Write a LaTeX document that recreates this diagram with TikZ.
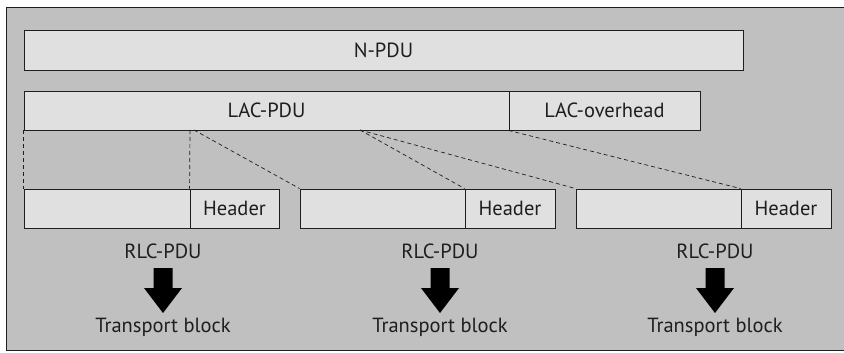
\documentclass[tikz,border=0pt]{standalone}
\usepackage{fontspec}
\setmainfont{PT Sans}
\usetikzlibrary{calc}
\definecolor{bggray}{HTML}{C0C0C0}
\definecolor{boxgray}{HTML}{E0E0E0}
\definecolor{ink}{HTML}{1E1E1E}
\begin{document}
\begin{tikzpicture}[x=1pt,y=-1pt,
  pdubox/.style={draw=ink, line width=0.9pt, fill=boxgray, inner sep=0pt, text=ink,
    font=\fontsize{20.5}{23}\selectfont},
  lbl/.style={text=ink, inner sep=0pt, font=\fontsize{20.5}{23}\selectfont},
  dashline/.style={draw=ink, line width=0.7pt, dash pattern=on 4pt off 3pt},
  fatarrow/.style={fill=black, draw=none}]
\useasboundingbox (0,0) rectangle (844,353);
\fill[white] (0,0) rectangle (844,353);
\draw[fill=bggray, draw=ink, line width=0.8pt] (6,7) rectangle (850,350);

% top boxes
\node[pdubox, minimum width=719pt, minimum height=40pt] (npdu) at (383.5,50.5) {N-PDU};
\node[pdubox, minimum width=485pt, minimum height=39pt] (lacpdu) at (266.5,110.5) {LAC-PDU};
\node[pdubox, minimum width=191pt, minimum height=39pt] (lacoh) at (604.5,110.5) {LAC-overhead};

% RLC-PDU boxes
\node[pdubox, minimum width=166pt, minimum height=39pt] (d1) at (107,208.5) {};
\node[pdubox, minimum width=89pt, minimum height=39pt] (h1) at (234.5,208.5) {Header};
\node[pdubox, minimum width=165pt, minimum height=39pt] (d2) at (382.5,208.5) {};
\node[pdubox, minimum width=90pt, minimum height=39pt] (h2) at (510,208.5) {Header};
\node[pdubox, minimum width=165pt, minimum height=39pt] (d3) at (658.5,208.5) {};
\node[pdubox, minimum width=90pt, minimum height=39pt] (h3) at (786,208.5) {Header};

% dashed mapping lines
\coordinate (s1) at (190,130);
\coordinate (s2) at (194,130);
\coordinate (s3) at (360,130);
\draw[dashline] (lacpdu.south west) -- (d1.north west);
\draw[dashline] (s1) -- (h1.north west);
\draw[dashline] (s2) -- (d2.north west);
\draw[dashline] (s3) -- (h2.north west);
\draw[dashline] (s3) -- (d3.north west);
\draw[dashline] (lacoh.south west) -- (h3.north west);

% labels and arrows
\foreach \i/\x in {1/163,2/440,3/715}{
  \node[lbl] (rlc\i) at (\x,251) {RLC-PDU};
  \node[lbl] (tb\i) at (\x,327) {Transport block};
  \coordinate (top\i) at (\x,268);
  \fill[fatarrow] ($(top\i)+(-9.5,0)$) -- ($(top\i)+(9.5,0)$) -- ($(top\i)+(9.5,20)$)
     -- ($(top\i)+(19,20)$) -- ($(top\i)+(0,45)$) -- ($(top\i)+(-19,20)$)
     -- ($(top\i)+(-9.5,20)$) -- cycle;
}
\end{tikzpicture}
\end{document}
